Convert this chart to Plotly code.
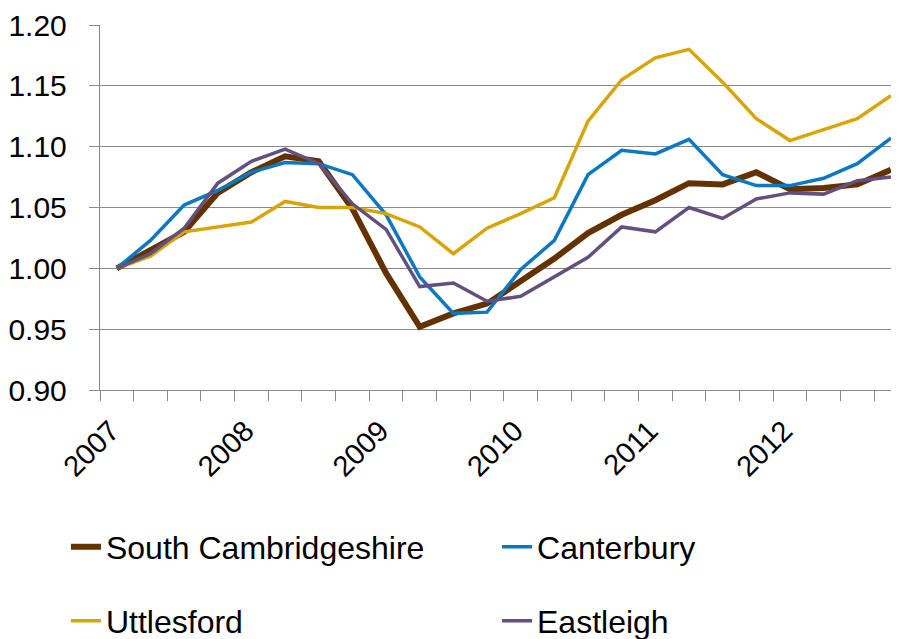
import plotly.graph_objects as go

quarters = list(range(24))
year_labels = ["2007", "2008", "2009", "2010", "2011", "2012"]
year_pos = [0, 4, 8, 12, 16, 20]

south_cambs = [1.000, 1.015, 1.030, 1.062, 1.079, 1.092, 1.088, 1.049, 0.996, 0.952,
               0.963, 0.971, 0.990, 1.008, 1.029, 1.044, 1.056, 1.070, 1.069, 1.079,
               1.065, 1.066, 1.069, 1.081]
canterbury = [1.000, 1.023, 1.052, 1.064, 1.079, 1.087, 1.086, 1.077, 1.044, 0.993,
              0.963, 0.964, 0.999, 1.023, 1.077, 1.097, 1.094, 1.106, 1.077, 1.068,
              1.068, 1.074, 1.086, 1.107]
uttlesford = [1.000, 1.010, 1.030, 1.034, 1.038, 1.055, 1.050, 1.050, 1.045, 1.034,
              1.012, 1.033, 1.045, 1.058, 1.121, 1.155, 1.173, 1.180, 1.153, 1.123,
              1.105, 1.114, 1.123, 1.142]
eastleigh = [1.000, 1.012, 1.033, 1.070, 1.088, 1.098, 1.086, 1.053, 1.032, 0.985,
             0.988, 0.973, 0.977, 0.993, 1.009, 1.034, 1.030, 1.050, 1.041, 1.057,
             1.062, 1.061, 1.072, 1.075]

series = [
    ("South Cambridgeshire", south_cambs, "#633200", 6, "legend"),
    ("Canterbury", canterbury, "#0A78C2", 3.5, "legend2"),
    ("Uttlesford", uttlesford, "#D9A405", 3.5, "legend3"),
    ("Eastleigh", eastleigh, "#62507E", 3.5, "legend4"),
]

fig = go.Figure()
for name, vals, color, width, leg in series:
    fig.add_trace(go.Scatter(x=quarters, y=vals, mode="lines", name=name,
                             line=dict(color=color, width=width), legend=leg,
                             showlegend=True))

font = "Liberation Sans, Arial, sans-serif"
grid = "#8A8A8A"


def leg(x, y):
    return dict(x=x, xanchor="left", y=y, yanchor="middle",
                font=dict(size=32, color="#000000"), bgcolor="rgba(0,0,0,0)")


fig.update_layout(
    width=891, height=631,
    showlegend=True,
    margin=dict(l=92, r=0, t=17, b=249, autoexpand=False),
    paper_bgcolor="white", plot_bgcolor="white",
    font=dict(family=font, size=30, color="#000000"),
    xaxis=dict(
        range=[-0.5, 23.24], automargin=False,
        tickvals=year_pos, ticktext=year_labels, tickangle=-45,
        ticks="", showgrid=False, zeroline=False,
        showline=True, linecolor=grid, linewidth=1.4,
        ticklabelstandoff=11, ticklabelshift=-6,
        minor=dict(tickvals=[i - 0.5 for i in range(25)], ticks="outside",
                   ticklen=10, tickcolor=grid, tickwidth=1.4, showgrid=False),
        tickfont=dict(size=29, color="#000000"),
    ),
    yaxis=dict(
        range=[0.90, 1.20], dtick=0.05, tick0=0.90, tickformat=".2f",
        automargin=False,
        showgrid=True, gridcolor=grid, gridwidth=1.4, zeroline=False,
        showline=True, linecolor=grid, linewidth=1.4,
        ticks="outside", ticklen=10, tickcolor=grid, tickwidth=1.4,
        ticklabelstandoff=16,
        tickfont=dict(size=30, color="#000000"),
    ),
    legend=leg(-0.0426, -0.430),
    legend2=leg(0.4969, -0.430),
    legend3=leg(-0.0426, -0.633),
    legend4=leg(0.4969, -0.633),
)

fig.write_html("out.html")
